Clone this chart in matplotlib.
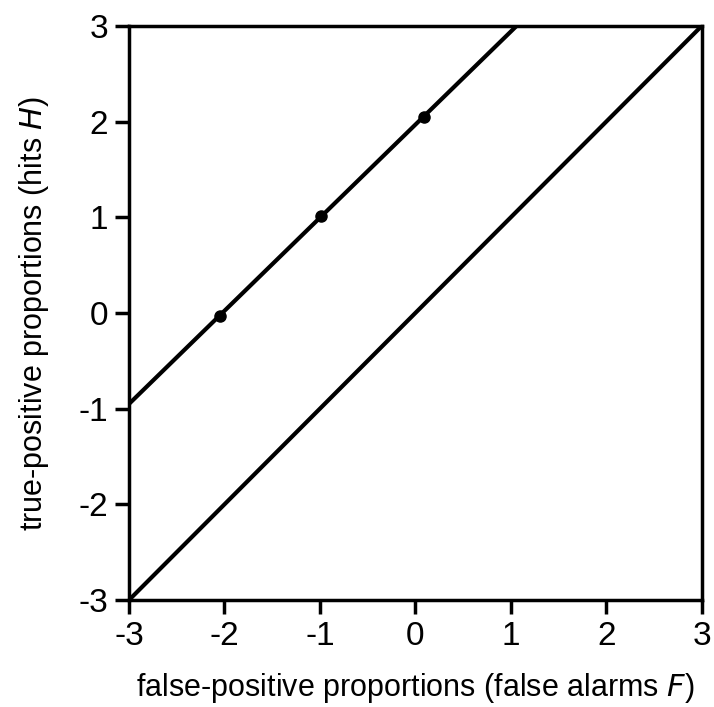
import matplotlib
matplotlib.use('Agg')
import matplotlib.pyplot as plt

# z-transformed ROC data
line_F = [-3, 1.06]
line_H = [-0.95, 3]
pts_F = [-2.05, -0.99, 0.09]
pts_H = [-0.03, 1.01, 2.05]
diag = [-3, 3]
ticks = [-3, -2, -1, 0, 1, 2, 3]

plt.rcParams['font.family'] = ['Liberation Sans', 'DejaVu Sans']
plt.rcParams['axes.unicode_minus'] = False

fig = plt.figure(figsize=(7.14, 7.07), dpi=100)
ax = fig.add_axes([0.1807, 0.1513, 0.802, 0.8119])

ax.plot(diag, diag, color='black', lw=3, solid_capstyle='butt')
ax.plot(line_F, line_H, color='black', lw=3, solid_capstyle='butt')
ax.plot(pts_F, pts_H, 'o', color='black', markersize=8)

ax.set_xlim(-3, 3)
ax.set_ylim(-3, 3)
ax.set_xticks(ticks)
ax.set_yticks(ticks)
ax.tick_params(direction='out', length=10, width=2.5, labelsize=24, pad=5)
for s in ax.spines.values():
    s.set_linewidth(2.5)

ax.set_xlabel('false-positive proportions (false alarms $\\it{F}$)', fontsize=22, labelpad=14)
ax.set_ylabel('true-positive proportions (hits $\\it{H}$)', fontsize=22, labelpad=20)

fig.savefig('out.png', dpi=100)
